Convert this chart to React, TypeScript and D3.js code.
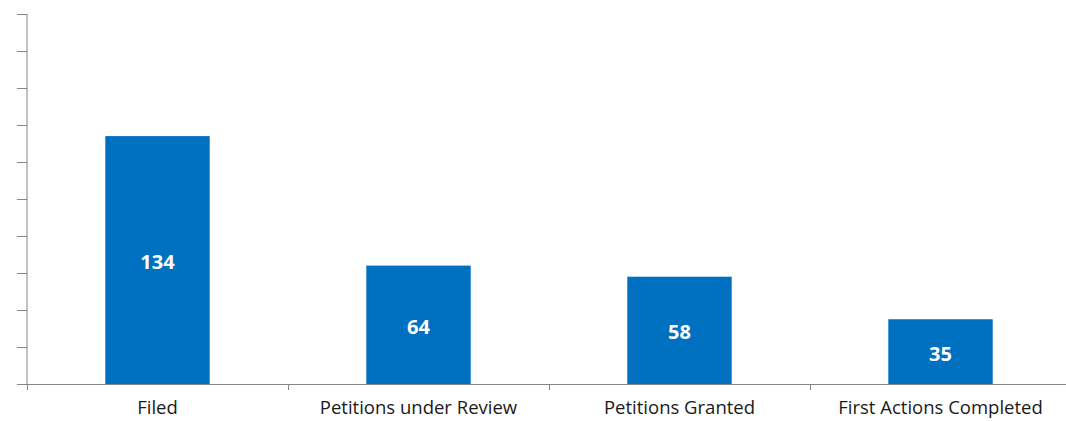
import React, { useEffect, useRef } from "react";
import * as d3 from "d3";

const categories = ["Filed", "Petitions under Review", "Petitions Granted", "First Actions Completed"];
const values = [134, 64, 58, 35];
const yTicks = [0, 20, 40, 60, 80, 100, 120, 140, 160, 180, 200];

const W = 1066;
const H = 421;

const App = () => {
  const ref = useRef<SVGSVGElement>(null);

  useEffect(() => {
    const svg = d3.select(ref.current);
    svg.selectAll("*").remove();

    const left = 27;
    const baseY = 384;
    const topY = 14;

    const x = d3
      .scaleBand()
      .domain(categories)
      .range([left, left + 261 * 4])
      .paddingInner(0.6)
      .paddingOuter(0.3);

    const y = d3.scaleLinear().domain([0, 200]).range([baseY, topY]);

    // y axis, no labels
    const yAxis = svg.append("g").attr("transform", `translate(${left},0)`);
    yAxis
      .append("line")
      .attr("y1", y(200))
      .attr("y2", y(0))
      .attr("stroke", "#868686");
    yAxis
      .selectAll("line.tick")
      .data(yTicks)
      .join("line")
      .attr("class", "tick")
      .attr("x1", -10)
      .attr("x2", 0)
      .attr("y1", (d) => y(d) + 0.5)
      .attr("y2", (d) => y(d) + 0.5)
      .attr("stroke", "#868686");

    // bars
    svg
      .selectAll("rect.bar")
      .data(values)
      .join("rect")
      .attr("class", "bar")
      .attr("x", (_, i) => x(categories[i])!)
      .attr("y", (d) => y(d))
      .attr("width", x.bandwidth())
      .attr("height", (d) => baseY - y(d))
      .attr("fill", "#0070c0");

    // value labels
    svg
      .selectAll("text.val")
      .data(values)
      .join("text")
      .attr("class", "val")
      .attr("x", (_, i) => x(categories[i])! + x.bandwidth() / 2)
      .attr("y", (d) => (y(d) + baseY) / 2 + 9)
      .attr("text-anchor", "middle")
      .attr("font-family", "'Open Sans', sans-serif")
      .attr("font-weight", "bold")
      .attr("font-size", 20)
      .attr("fill", "#ffffff")
      .text((d) => d);

    // x axis
    const step = x.step();
    const xAxis = svg.append("g");
    xAxis
      .append("line")
      .attr("x1", left)
      .attr("x2", W)
      .attr("y1", baseY + 0.5)
      .attr("y2", baseY + 0.5)
      .attr("stroke", "#868686");
    xAxis
      .selectAll("line.tick")
      .data(d3.range(categories.length + 1))
      .join("line")
      .attr("class", "tick")
      .attr("x1", (i) => left + i * step + 0.5)
      .attr("x2", (i) => left + i * step + 0.5)
      .attr("y1", baseY)
      .attr("y2", baseY + 6)
      .attr("stroke", "#868686");
    xAxis
      .selectAll("text")
      .data(categories)
      .join("text")
      .attr("x", (d) => x(d)! + x.bandwidth() / 2)
      .attr("y", 414)
      .attr("text-anchor", "middle")
      .attr("font-family", "'Open Sans', sans-serif")
      .attr("font-size", 18.5)
      .attr("fill", "#1a1a1a")
      .text((d) => d);
  }, []);

  return (
    <svg
      ref={ref}
      width={W}
      height={H}
      style={{ position: "absolute", left: 0, top: 0, background: "#fff" }}
    />
  );
};

export default App;
